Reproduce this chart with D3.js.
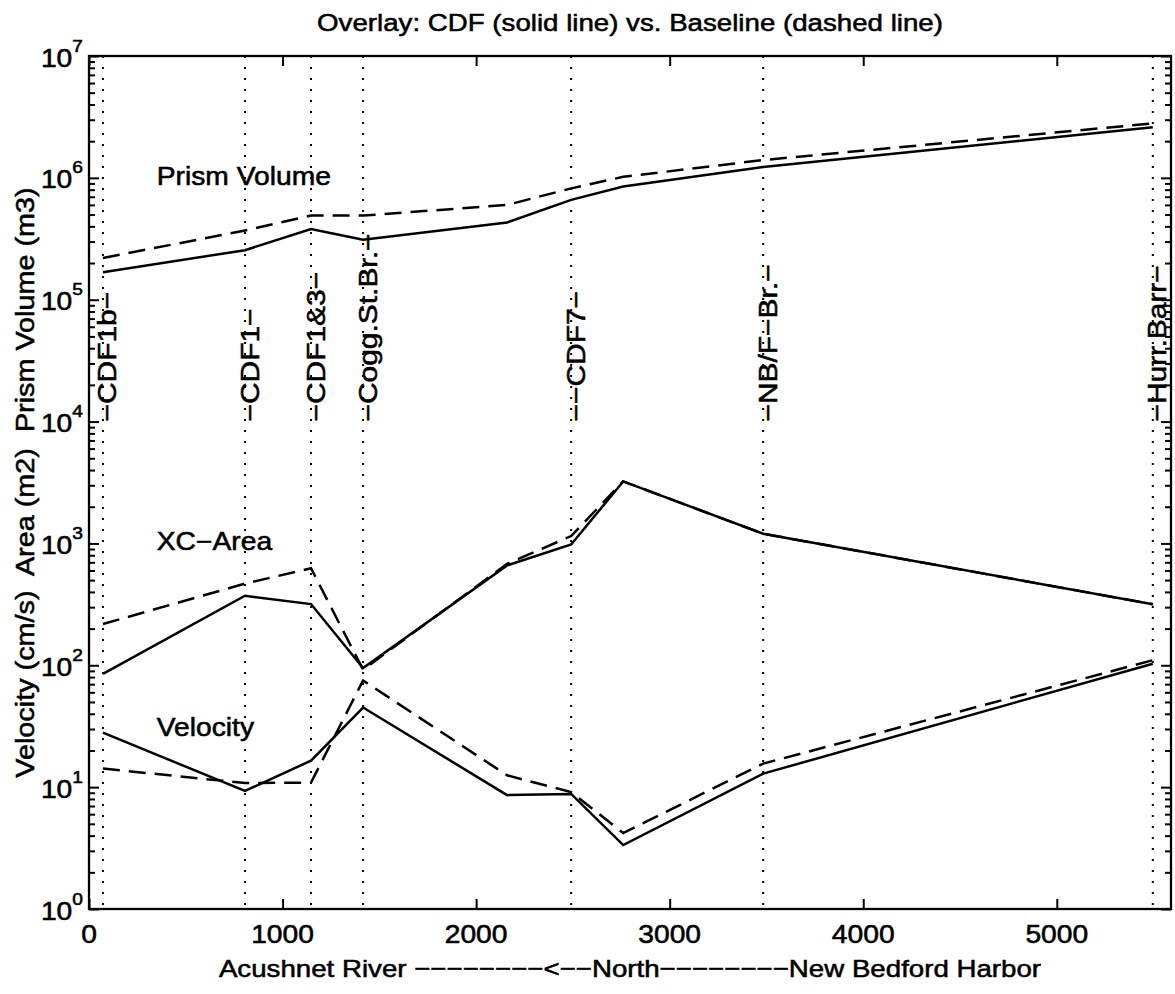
<!DOCTYPE html>
<html>
<head>
<meta charset="utf-8">
<script src="https://cdn.jsdelivr.net/npm/d3@7"></script>
<style>
  body { margin: 0; background: #fff; }
  svg { display: block; }
  text { font-family: "Liberation Sans", Arial, Helvetica, sans-serif; fill: #000;
         stroke: #000; stroke-width: 0.55px; white-space: pre; }
</style>
</head>
<body>
<svg id="chart" width="1175" height="994"></svg>
<script>
// Along-channel distance of each computational station (m)
const distance = [72, 806, 1147, 1416, 2160, 2491, 2760, 3483, 5496];

// CDF configuration (solid) and baseline (dashed)
const prismCDF  = [1.68e5, 2.55e5, 3.8e5, 3.1e5, 4.3e5, 6.6e5, 8.5e5, 1.23e6, 2.6e6];
const prismBase = [2.2e5, 3.7e5, 4.9e5, 4.9e5, 6.0e5, 8.2e5, 1.02e6, 1.4e6, 2.8e6];
const areaCDF   = [85, 372, 318, 95, 660, 980, 3230, 1200, 317];
const areaBase  = [218, 468, 625, 92, 680, 1150, 3230, 1200, 317];
const velCDF    = [28, 9.3, 16.5, 45, 8.6, 8.8, 3.35, 12.9, 103];
const velBase   = [14.2, 10.8, 10.9, 75, 12.5, 9.1, 4.2, 15.6, 110];

// Landmarks along the river
const stationX = [72, 806, 1147, 1416, 2491, 3483, 5496];
const stationNames = ["−CDF1b−", "−CDF1−", "−CDF1&3−", "−Cogg.St.Br.−", "−−CDF7−", "−NB/F−Br.−", "−Hurr.Barr−"];
const stationLabelY = 1e4;

// Axis ticks
const xTicks = [0, 1000, 2000, 3000, 4000, 5000];
const yExponents = [0, 1, 2, 3, 4, 5, 6, 7];

// In-plot series names and their vertical anchors
const seriesNames = ["Prism Volume", "XC−Area", "Velocity"];
const seriesNameY = [1e6, 1e3, 30];
const seriesNameX = 350;

const titleText = "Overlay: CDF (solid line) vs. Baseline (dashed line)";
const xLabelText = "Acushnet River −−−−−−−−<−−North−−−−−−−−New Bedford Harbor";
const yLabelText = "Velocity (cm/s)  Area (m2)  Prism Volume (m3)";

// ---- layout ----
const plotL = 89, plotR = 1171, plotT = 56, plotB = 909;
const SX = 1.13;          // horizontal widening of the type
const FS = 25;

const svg = d3.select("#chart");
const x = d3.scaleLinear().domain([0, 5590]).range([plotL, plotR]);
const y = d3.scaleLog().domain([1, 1e7]).range([plotB, plotT]);

function label(g, tx, ty, rot, str, size, anchor) {
  return g.append("text")
    .attr("transform", `translate(${tx},${ty}) rotate(${rot}) scale(${SX},1)`)
    .attr("font-size", size)
    .attr("text-anchor", anchor)
    .text(str);
}

// landmark dotted verticals
svg.append("g").selectAll("line").data(stationX).join("line")
  .attr("x1", d => x(d)).attr("x2", d => x(d))
  .attr("y1", plotT).attr("y2", plotB)
  .attr("stroke", "#000").attr("stroke-width", 2)
  .attr("stroke-dasharray", "2,9");

// landmark names, written upward from 10^4
const lab = svg.append("g");
stationX.forEach((s, i) => {
  label(lab, x(s) + 13.5, y(stationLabelY), -90, stationNames[i], 26.5, "start");
});

// data lines
const line = d3.line().x(d => x(d[0])).y(d => y(d[1]));
const series = [
  [prismCDF, null], [prismBase, "17,9"],
  [areaCDF, null],  [areaBase, "17,9"],
  [velCDF, null],   [velBase, "17,9"]
];
const lines = svg.append("g").attr("fill", "none").attr("stroke", "#000")
  .attr("stroke-width", 2.5).attr("stroke-linejoin", "miter");
series.forEach(([vals, dash]) => {
  const p = lines.append("path").attr("d", line(distance.map((d, i) => [d, vals[i]])));
  if (dash) p.attr("stroke-dasharray", dash);
});

// series names
const names = svg.append("g");
seriesNames.forEach((n, i) => label(names, x(seriesNameX), y(seriesNameY[i]) + 7, 0, n, FS, "start"));

// axes: ticks inside on all four sides
const yTickVals = [];
yExponents.forEach(e => {
  if (e < 7) for (let m = 1; m < 10; m++) yTickVals.push(m * Math.pow(10, e));
  else yTickVals.push(1e7);
});
const isMajor = v => Math.abs(Math.log10(v) - Math.round(Math.log10(v))) < 1e-9;

function styleAxis(g) {
  g.select(".domain").remove();
  g.selectAll(".tick line").attr("stroke", "#000").attr("stroke-width", 2);
  g.selectAll(".tick text").remove();
}

svg.append("g").attr("transform", `translate(0,${plotB})`)
  .call(d3.axisBottom(x).tickValues(xTicks).tickSize(-10)).call(styleAxis);
svg.append("g").attr("transform", `translate(0,${plotT})`)
  .call(d3.axisTop(x).tickValues(xTicks).tickSize(-10)).call(styleAxis);

const yl = svg.append("g").attr("transform", `translate(${plotL},0)`)
  .call(d3.axisLeft(y).tickValues(yTickVals).tickSize(-10)).call(styleAxis);
yl.selectAll(".tick line").attr("x2", d => isMajor(d) ? 10 : 6);
const yr = svg.append("g").attr("transform", `translate(${plotR},0)`)
  .call(d3.axisRight(y).tickValues(yTickVals).tickSize(-10)).call(styleAxis);
yr.selectAll(".tick line").attr("x2", d => isMajor(d) ? -10 : -6);

svg.append("rect")
  .attr("x", plotL).attr("y", plotT)
  .attr("width", plotR - plotL).attr("height", plotB - plotT)
  .attr("fill", "none").attr("stroke", "#000").attr("stroke-width", 2.3);

// tick labels
const tl = svg.append("g");
xTicks.forEach(v => label(tl, x(v), 943, 0, String(v), FS, "middle"));
yExponents.forEach(e => {
  const t = tl.append("text")
    .attr("transform", `translate(83,${y(Math.pow(10, e)) + 10.5}) scale(${SX},1)`)
    .attr("font-size", FS).attr("text-anchor", "end");
  t.append("tspan").text("10");
  t.append("tspan").attr("font-size", 17).attr("dy", -15).text(String(e));
});

// titles
const tt = svg.append("g");
label(tt, (plotL + plotR) / 2, 31, 0, titleText, 24.5, "middle");
label(tt, (plotL + plotR) / 2, 977, 0, xLabelText, 24.5, "middle");
label(tt, 34, (plotT + plotB) / 2, -90, yLabelText, 25.5, "middle");
</script>
</body>
</html>
